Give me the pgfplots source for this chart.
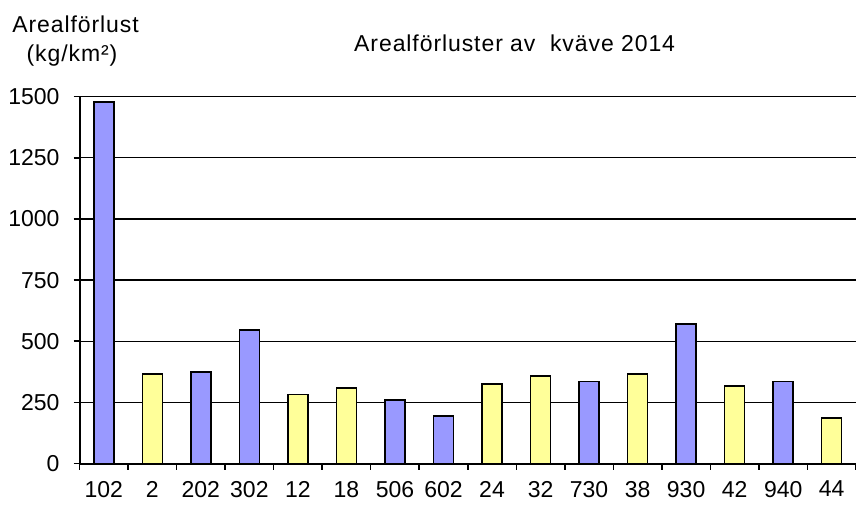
\documentclass[border=0pt]{standalone}
\usepackage{fontspec}
\setmainfont{Liberation Sans}
\newfontfamily\lsfont[LetterSpace=4]{Liberation Sans}
\usepackage{pgfplots}
\pgfplotsset{compat=1.18}
\definecolor{barblue}{HTML}{9999FF}
\definecolor{baryellow}{HTML}{FFFF99}
\begin{document}
\begin{tikzpicture}[x=1pt,y=1pt]
\useasboundingbox (0,0) rectangle (856,504);
\begin{axis}[
  at={(79.5pt,40.5pt)}, anchor=south west,
  scale only axis, width=776.5pt, height=366.8pt,
  xmin=-0.5, xmax=15.5, ymin=0, ymax=1500,
  axis lines*=left,
  axis line style={line width=2pt},
  ytick={0,250,...,1500},
  scaled y ticks=false,
  /pgf/number format/1000 sep={},
  /pgf/number format/assume math mode=true,
  xtick={-0.5,0.5,...,15.5},
  x tick label as interval,
  xticklabels={102,2,202,302,12,18,506,602,24,32,730,38,930,42,940,44},
  tick align=outside,
  major tick length=6pt,
  tick style={black, line width=1.5pt},
  ymajorgrids,
  grid style={black, line width=1.3pt},
  ticklabel style={font=\fontsize{23}{26}\selectfont},
  xticklabel style={yshift=-8pt},
  yticklabel style={xshift=-10.5pt},
  ybar, bar width=20pt, bar shift=0pt,
]
\addplot[fill=barblue, draw=black, line width=1.5pt] coordinates {
  (0,1478) (2,375) (3,546) (6,260) (7,194) (10,335) (12,571) (14,335)};
\addplot[fill=baryellow, draw=black, line width=1.5pt] coordinates {
  (1,366) (4,283) (5,309) (8,325) (9,358) (11,366) (13,317) (15,187)};
\end{axis}
\node[anchor=base, inner sep=0pt, font=\fontsize{23}{26}\lsfont] at (75.5,471) {Arealförlust};
\node[anchor=base, inner sep=0pt, font=\fontsize{23}{26}\lsfont] at (72,442.3) {(kg/km²)};
\node[anchor=base west, inner sep=0pt, font=\fontsize{23}{26}\lsfont] at (354,452.3) {Arealförluster av\ \ kväve 2014};
\end{tikzpicture}
\end{document}
